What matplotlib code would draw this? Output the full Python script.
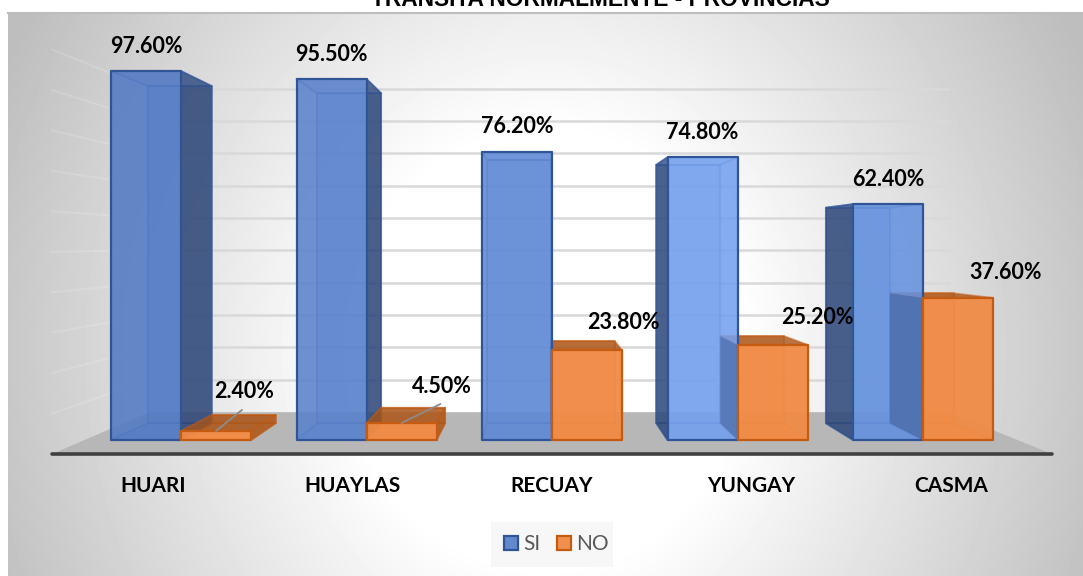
import numpy as np
import matplotlib
matplotlib.use('Agg')
import matplotlib.pyplot as plt
from matplotlib.patches import Polygon, Patch, Rectangle
from matplotlib.colors import to_rgba

provincias = ['HUARI', 'HUAYLAS', 'RECUAY', 'YUNGAY', 'CASMA']
si = [97.6, 95.5, 76.2, 74.8, 62.4]
no = [2.4, 4.5, 23.8, 25.2, 37.6]
titulo = 'TRANSITA NORMALMENTE - PROVINCIAS'
grid_ticks = [0, 10, 20, 30, 40, 50, 60, 70, 80, 90, 100]

# label offsets from the bar top, in pixels (hand placed in the original)
no_label_dx = [28, 40, 36, 45, 48]
no_label_dy = [39, 36, 28, 27, 25]
leader_dx = [26, 39]
leader_dy = [21, 19]

si_front = ['#527ac4', '#5a82cc', '#6089d4', '#75a1ee', '#6592de']

W, H = 1083, 576
PX_X, PX_Y = 185.5, 3.78   # pixels per category, pixels per percent
X0, Y0 = 181, 440          # pixel position of category 0, value 0
BAR_W = 70 / PX_X
VP_X, VP_Y = 1.92, 51.6    # vanishing point
K_BAR, K_WALL = 0.914, 0.8
FLOOR_L, FLOOR_R, FLOOR_Y = -0.695, 4.695, -3.7

plt.rcParams['font.family'] = ['Lato', 'DejaVu Sans']
fig = plt.figure(figsize=(W / 100, H / 100), dpi=100, facecolor='white')


def project(x, y, k):
    return VP_X + (x - VP_X) * k, VP_Y + (y - VP_Y) * k


def background():
    bg = fig.add_axes([0, 0, 1, 1], zorder=0)
    xx, yy = np.meshgrid(np.arange(8, W), np.arange(12, H))
    r = np.sqrt(((xx - 545) / 560) ** 2 + ((yy - 350) / 620) ** 2)
    v = 255 - np.clip((r - 0.35) / 0.65, 0, 1.1) * 59
    bg.imshow(v, cmap='gray', vmin=0, vmax=255, extent=[8, W, H, 12], aspect='auto')
    bg.plot([8, W], [12.5, 12.5], color='#bdbdbd', lw=1.5)
    # legend box
    bg.add_patch(Rectangle((491, 522), 122, 45, fc='#f6f6f6', ec='none', alpha=0.8))
    bg.set_xlim(0, W)
    bg.set_ylim(H, 0)
    bg.axis('off')


def wall(ax):
    floor = [(FLOOR_L, FLOOR_Y), (FLOOR_R, FLOOR_Y),
             project(FLOOR_R, FLOOR_Y, K_WALL), project(FLOOR_L, FLOOR_Y, K_WALL)]
    for t in grid_ticks[1:]:
        y = FLOOR_Y + t * 1.07
        xl, yb = project(FLOOR_L, y, K_WALL)
        xr, _ = project(FLOOR_R, y, K_WALL)
        ax.plot([xl, xr], [yb, yb], color='#d9d9d9', lw=1.8, zorder=1)
        ax.plot([FLOOR_L, xl], [y, yb], color='white', alpha=0.15, lw=1.5, zorder=1)
    ax.add_patch(Polygon(floor, fc='#b7b7b7', ec='none', zorder=1))
    ax.plot([FLOOR_L, FLOOR_R], [FLOOR_Y, FLOOR_Y], color='#404040', lw=2.6,
            solid_capstyle='round', zorder=2)


def face(ax, pts, fc, alpha, ec, lw, z):
    ax.add_patch(Polygon(pts, fc=to_rgba(fc, alpha), ec=ec, lw=lw, joinstyle='round', zorder=z))


def bar_back(ax, x0, x1, val, fc, dark, edge, z):
    bl = project(x0, 0, K_BAR)
    br = project(x1, 0, K_BAR)
    tl = project(x0, val, K_BAR)
    tr = project(x1, val, K_BAR)
    e = to_rgba(edge, 0.55)
    face(ax, [bl, br, tr, tl], fc, 0.35, e, 1.3, z)
    face(ax, [(x0, 0), (x1, 0), br, bl], fc, 0.35, e, 1.3, z)
    # side facing the viewer, depends on which side of the vanishing point the bar is
    if x1 < VP_X:
        face(ax, [(x1, 0), br, tr, (x1, val)], dark, 0.8, e, 1.3, z)
    elif x0 > VP_X:
        face(ax, [(x0, 0), bl, tl, (x0, val)], dark, 0.8, e, 1.3, z)
    top_alpha = 0.8 if val < VP_Y else 0.15
    face(ax, [(x0, val), (x1, val), tr, tl], dark if val < VP_Y else fc, top_alpha, e, 1.3, z)


def bar_front(ax, x0, x1, val, fc, edge, alpha, z):
    face(ax, [(x0, 0), (x1, 0), (x1, val), (x0, val)], fc, alpha, edge, 1.6, z)


def bars(ax):
    for i in range(len(provincias)):
        x0, xm, x1 = i - BAR_W, i, i + BAR_W
        z = 3 + i * 5
        # the orange bar goes behind the blue one right of the vanishing point
        no_z = z if xm > VP_X else z + 2
        bar_back(ax, xm, x1, no[i], '#ed7d31', '#a85418', '#c55a11', no_z)
        bar_back(ax, x0, xm, si[i], si_front[i], '#2a4272', '#2f5597', z + 1)
        bar_front(ax, x0, xm, si[i], si_front[i], '#2f5597', 0.88, z + 1.5)
        if xm > VP_X:
            # darker blue where the orange side shows through the blue front
            bl = project(xm, 0, K_BAR)
            tl = project(xm, no[i], K_BAR)
            face(ax, [(xm, 0), bl, tl, (xm, no[i])], '#2f5597', 0.45, 'none', 0, z + 2)
        bar_front(ax, xm, x1, no[i], '#f18b45', '#c55a11', 0.95, z + 3)


def labels(ax):
    for i in range(len(provincias)):
        ax.annotate('%.2f%%' % si[i], (i - BAR_W / 2, si[i]), xytext=(0, 25),
                    textcoords='offset pixels', ha='center', va='center',
                    fontsize=15.5, fontweight='bold', color='black', zorder=50)
        ax.annotate('%.2f%%' % no[i], (i + BAR_W / 2, no[i]),
                    xytext=(no_label_dx[i], no_label_dy[i]),
                    textcoords='offset pixels', ha='center', va='center',
                    fontsize=15.5, fontweight='bold', color='black', zorder=50)
        ax.text(2 + (i - 2) * 1.075, (Y0 - 486) / PX_Y, provincias[i], ha='center', va='center',
                fontsize=15, fontweight='bold', color='black', zorder=50)
    for i in range(len(leader_dx)):
        ax.annotate('', (i + BAR_W / 2, no[i]), xytext=(leader_dx[i], leader_dy[i]),
                    textcoords='offset pixels', zorder=49,
                    arrowprops=dict(arrowstyle='-', color='#8c8c8c', lw=1.3,
                                    shrinkA=0, shrinkB=0))


background()
ax = fig.add_axes([0, 0, 1, 1], zorder=1)
ax.patch.set_alpha(0)
ax.set_xlim(-X0 / PX_X, (W - X0) / PX_X)
ax.set_ylim((Y0 - H) / PX_Y, Y0 / PX_Y)
ax.axis('off')

wall(ax)
bars(ax)
labels(ax)

handles = [Patch(fc=to_rgba('#5a82cc', 0.95), ec='#2f5597', lw=1.6, label='SI'),
           Patch(fc=to_rgba('#f18b45', 0.95), ec='#c55a11', lw=1.6, label='NO')]
leg = ax.legend(handles=handles, ncol=2, loc='center', bbox_to_anchor=(556.5 / W, 1 - 544 / H),
                bbox_transform=fig.transFigure, frameon=False, fontsize=15, labelcolor='#595959',
                handlelength=0.68, handleheight=0.68, handletextpad=0.25, columnspacing=0.8,
                borderpad=0)
leg.set_zorder(60)

fig.text(600.5 / W, 1 - 6 / H, titulo, ha='center', va='baseline', fontsize=16.4,
         fontweight='bold', family='Liberation Sans', color='black')

fig.savefig('out.png', dpi=100)
